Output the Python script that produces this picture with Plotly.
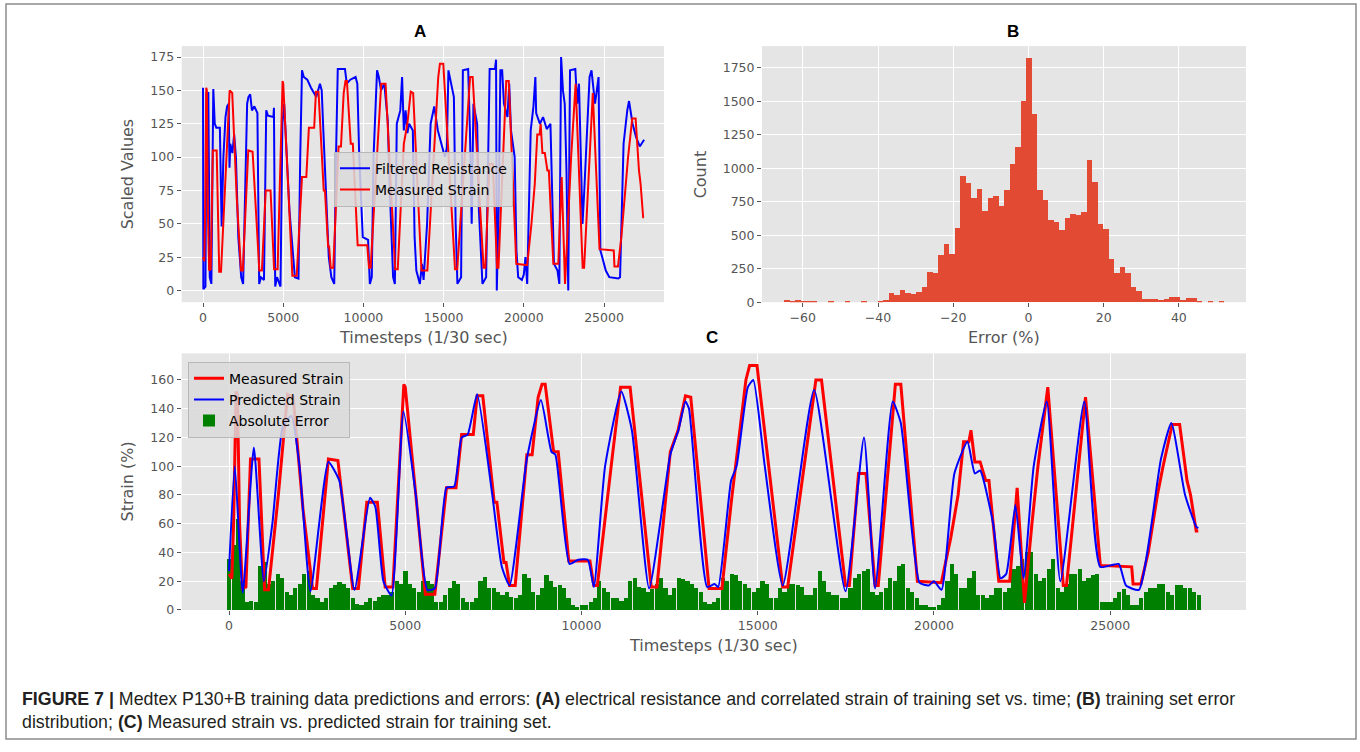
import plotly.graph_objects as go

W, H = 1360, 752

# ---------------- data ----------------
# Measured strain (timestep, %)
ms_t = [0, 80, 130, 200, 240, 300, 380, 480, 610, 850, 1010, 1120, 1400, 1660, 1820, 2100, 2370, 2480,
        2820, 3090, 3510, 3670, 3910, 4210, 4430, 4650, 4960, 5000, 5300, 5570, 5840, 6170, 6440, 6600,
        6930, 7040, 7200, 7525, 7600, 7800, 7860, 7960, 8120, 8285, 8450, 8600, 8770, 8880, 8970, 9210,
        9340, 9640, 10240, 10350, 10450, 10890, 11110, 11380, 11980, 12140, 12520, 12740, 12950, 13100,
        13620, 13985, 14250, 14665, 14770, 14980, 15710, 15850, 16650, 16810, 17490, 17600, 17860, 18070,
        18330, 18420, 18905, 19060, 19530, 20210, 20475, 20685, 20840, 20990, 21050, 21160, 21310, 21470,
        21560, 21840, 22150, 22360, 22570, 22780, 22950, 23230, 23670, 23760, 24090, 24300, 24720, 25610,
        25650, 25870, 26080, 26340, 26500, 26760, 26970, 27180, 27280, 27440, 27500]
ms_v = [25, 22, 60, 152, 150, 60, 15, 16, 105, 105, 14, 14, 80, 150, 148, 70, 15, 15,
        105, 104, 15, 15, 75, 75, 16, 16, 157, 155, 80, 11, 11, 85, 85, 122,
        122, 149, 149, 75, 75, 33, 33, 17, 17, 65, 108, 108, 148, 157, 157, 110,
        110, 34, 34, 17, 17, 110, 155, 155, 16, 16, 110, 125, 149, 148,
        15, 15, 75, 160, 170, 170, 16, 16, 160, 160, 17, 17, 95, 95,
        17, 17, 157, 157, 20, 19, 50, 80, 117, 117, 125, 103, 103, 90,
        90, 20, 20, 85, 5, 60, 100, 155, 17, 17, 100, 148, 31, 30,
        18, 18, 40, 80, 100, 129, 129, 90, 80, 55, 55]

# Predicted strain (timestep, %)
ps_t = [0, 165, 390, 705, 990, 1230, 1530, 1770, 2000, 2310, 2820, 3130, 3560, 4000, 4150, 4380, 4610,
        4950, 5300, 5625, 5840, 6170, 6390, 6600, 6770, 7040, 7470, 7740, 7960, 8450, 8850, 9150, 9260,
        9660, 9910, 10180, 10350, 10670, 11130, 11430, 11920, 12520, 12750, 12950, 13050, 13565, 13775,
        13880, 14245, 14400, 14720, 14875, 15200, 15710, 16600, 17490, 18015, 18330, 18830, 19060, 19590,
        19850, 20000, 20215, 20580, 20950, 21160, 21310, 21680, 21890, 22050, 22310, 22540, 22830, 23200,
        23585, 24265, 24720, 25240, 25450, 25815, 26440, 26735, 27125, 27440, 27500]
ps_v = [27, 100, 12, 113, 20, 60, 128, 135, 100, 13, 103, 90, 14, 78, 72, 20, 10,
        138, 80, 14, 15, 85, 86, 120, 122, 150, 80, 30, 17, 105, 146, 110, 108,
        32, 35, 35, 16, 100, 152, 125, 15, 108, 125, 145, 140, 16, 18,
        16, 90, 100, 155, 160, 100, 17, 153, 13, 120, 15, 145, 130, 19,
        17, 20, 14, 95, 117, 95, 97, 60, 22, 25, 73, 22, 100, 145,
        20, 145, 30, 32, 17, 14, 105, 130, 80, 58, 57]

# Filtered resistance (scaled)
fr_t = [0, 20, 150, 220, 330, 420, 520, 640, 730, 830, 1050, 1100, 1160, 1270, 1400, 1500, 1600, 1650,
        1700, 1830, 1940, 2050, 2200, 2380, 2500, 2600, 2750, 2830, 2940, 3050, 3200, 3390, 3450, 3500,
        3610, 3800, 3940, 4050, 4390, 4420, 4500, 4610, 4830, 4950, 5060, 5390, 5725, 5950, 6060, 6170,
        6280, 6500, 6730, 6950, 7060, 7290, 7400, 7500, 7840, 8000, 8180, 8290, 8400, 8850, 8960, 9180,
        9510, 9620, 9740, 9960, 10290, 10400, 10520, 10630, 10850, 10960, 11100, 11300, 11400, 11520,
        11630, 11850, 11960, 12080, 12300, 12410, 12520, 12630, 12740, 12850, 13080, 13190, 13300, 13520,
        13650, 13750, 13970, 14190, 14415, 14640, 14860, 15080, 15200, 15300, 15640, 15750, 15860, 16090,
        16200, 16530, 16640, 16750, 16860, 17090, 17200, 17420, 17650, 17760, 17870, 18200, 18270, 18315,
        18430, 18540, 18650, 18760, 18980, 19090, 19200, 19430, 19540, 19650, 19880, 20000, 20100, 20210,
        20430, 20600, 20720, 20770, 21000, 21200, 21430, 21660, 21770, 21880, 22100, 22215, 22325, 22440,
        22550, 22660, 22770, 22880, 23210, 23330, 23440, 23550, 23660, 23770, 23880, 24100, 24220, 24330,
        24440, 24660, 24775, 24890, 25110, 25330, 25890, 26000, 26220, 26450, 26560, 26780, 27000, 27230,
        27450, 27500]
fr_v = [152, 1, 3, 148, 148, 10, 5, 151, 125, 122, 122, 80, 48, 100, 130, 138, 140, 92,
        110, 103, 117, 100, 40, 10, 5, 60, 140, 145, 147, 135, 138, 133, 40, 5,
        10, 8, 135, 131, 130, 137, 3, 10, 3, 125, 140, 60, 10, 9, 100, 165,
        160, 158, 152, 148, 145, 155, 150, 120, 25, 10, 5, 100, 166, 166, 155, 158,
        160, 155, 100, 40, 38, 5, 10, 100, 165, 160, 150, 155, 140, 127,
        80, 10, 5, 125, 135, 160, 120, 135, 118, 125, 120, 40, 15, 5,
        20, 8, 50, 125, 138, 120, 110, 100, 107, 165, 145, 50, 5, 10,
        165, 166, 120, 50, 140, 125, 60, 5, 10, 100, 166, 166, 173, 0,
        60, 165, 165, 140, 130, 155, 120, 100, 30, 10, 8, 12, 25, 5,
        120, 138, 160, 133, 125, 130, 121, 125, 60, 20, 15, 5, 175, 150,
        140, 90, 0, 165, 166, 140, 155, 110, 50, 75, 100, 160, 165, 150,
        140, 160, 30, 25, 15, 10, 9, 10, 110, 135, 142, 125, 115, 108,
        113, 113]

# Absolute error (every 125 timesteps)
ae_t = list(range(0, 27501, 125))
ae_v = [35, 45, 63, 20, 5, 6, 5, 30, 33, 18, 20, 25, 22, 12, 10, 15, 18, 25, 27, 10,
        8, 5, 8, 15, 17, 19, 18, 15, 8, 4, 3, 5, 8, 6, 9, 10, 10, 12, 20, 18,
        27, 18, 15, 12, 20, 20, 18, 5, 5, 10, 15, 20, 18, 8, 5, 5, 8, 20, 23, 15,
        15, 12, 10, 12, 9, 8, 10, 25, 22, 12, 10, 15, 24, 20, 16, 17, 15, 8, 3, 2,
        3, 3, 5, 8, 20, 15, 12, 8, 8, 6, 8, 20, 22, 16, 15, 12, 14, 18, 22, 15,
        10, 15, 22, 21, 20, 18, 15, 12, 5, 4, 5, 8, 22, 20, 25, 24, 20, 18, 15, 12,
        15, 20, 18, 8, 8, 15, 12, 18, 18, 17, 16, 10, 10, 15, 27, 20, 12, 10, 10, 8,
        8, 15, 22, 25, 27, 28, 12, 10, 12, 15, 22, 20, 30, 32, 15, 12, 8, 3, 3, 2,
        2, 3, 8, 20, 32, 25, 15, 15, 22, 27, 10, 10, 8, 10, 15, 15, 12, 15, 28, 30,
        35, 40, 40, 25, 20, 22, 28, 35, 15, 12, 18, 25, 25, 28, 20, 22, 24, 25, 5, 5,
        5, 8, 12, 14, 10, 3, 3, 8, 12, 15, 15, 18, 18, 12, 10, 17, 17, 15, 15, 12,
        10]

# Error histogram
hist_start = -65.0
hist_bin = 1.4625
hist_counts = [15, 8, 12, 6, 6, 6, 0, 0, 5, 0, 0, 5, 0, 0, 5, 0, 0, 8, 15, 65,
               55, 90, 65, 60, 75, 110, 225, 215, 350, 435, 360, 555, 940, 890, 775, 845, 680, 775, 790, 715,
               835, 1030, 1160, 1500, 1820, 1400, 840, 765, 610, 600, 540, 630, 655, 650, 675, 1060, 895, 580, 545, 320,
               220, 265, 220, 115, 80, 25, 20, 25, 15, 20, 35, 35, 15, 30, 28, 10, 0, 5, 0, 5]
hist_x = [hist_start + hist_bin * (k + 0.5) for k in range(len(hist_counts))]

time_ticks = [0, 5000, 10000, 15000, 20000, 25000]
time_labels = ["0", "5000", "10000", "15000", "20000", "25000"]

# ---------------- styling ----------------
BG = "#E5E5E5"
TXT = "#555555"
FONT = "DejaVu Sans"


def xd(a, b):
    return [a / W, b / W]


def yd(top, bottom):
    return [1 - bottom / H, 1 - top / H]


fig = go.Figure()

# Panel A
fig.add_trace(go.Scatter(x=fr_t, y=fr_v, mode="lines", name="Filtered Resistance",
                         line=dict(color="#0000FF", width=2), xaxis="x", yaxis="y", legend="legend", legendrank=1))
fig.add_trace(go.Scatter(x=ms_t, y=ms_v, mode="lines", name="Measured Strain",
                         line=dict(color="#FF0000", width=2), xaxis="x", yaxis="y", legend="legend", legendrank=2))
# Panel B
fig.add_trace(go.Bar(x=hist_x, y=hist_counts, width=hist_bin, marker=dict(color="#E24A33", line=dict(width=0)),
                     showlegend=False, xaxis="x2", yaxis="y2"))
# Panel C
fig.add_trace(go.Bar(x=ae_t, y=ae_v, width=118, name="Absolute Error",
                     marker=dict(color="#008000", line=dict(width=0)), xaxis="x3", yaxis="y3",
                     legend="legend2", legendrank=3))
fig.add_trace(go.Scatter(x=ms_t, y=ms_v, mode="lines", name="Measured Strain",
                         line=dict(color="#FF0000", width=3), xaxis="x3", yaxis="y3",
                         legend="legend2", legendrank=1))
fig.add_trace(go.Scatter(x=ps_t, y=ps_v, mode="lines", name="Predicted Strain",
                         line=dict(color="#0000FF", width=2, shape="spline", smoothing=0.5),
                         xaxis="x3", yaxis="y3", legend="legend2", legendrank=2))

axis_common = dict(showgrid=True, gridcolor="white", gridwidth=1.2, zeroline=False, showline=False,
                   ticks="outside", ticklen=4, tickwidth=1, tickcolor=TXT,
                   tickfont=dict(family=FONT, size=12.5, color=TXT))

fig.update_layout(
    width=W, height=H, margin=dict(l=0, r=0, t=0, b=0),
    paper_bgcolor="white", plot_bgcolor=BG, bargap=0,
    xaxis=dict(domain=xd(181.7, 664), range=[-1330, 28740], tickvals=time_ticks, ticktext=time_labels,
               anchor="y", **axis_common),
    yaxis=dict(domain=yd(46.5, 305), range=[-8.7, 183.2], tickvals=[0, 25, 50, 75, 100, 125, 150, 175],
               anchor="x", **axis_common),
    xaxis2=dict(domain=xd(762, 1246), range=[-70.85, 57.85], tickvals=[-60, -40, -20, 0, 20, 40],
                ticktext=["\u221260", "\u221240", "\u221220", "0", "20", "40"], anchor="y2", **axis_common),
    yaxis2=dict(domain=yd(46.5, 305), range=[0, 1911], tickvals=[0, 250, 500, 750, 1000, 1250, 1500, 1750],
                anchor="x2", **axis_common),
    xaxis3=dict(domain=xd(181.7, 1246), range=[-1342, 28853], tickvals=time_ticks, ticktext=time_labels,
                anchor="y3", **axis_common),
    yaxis3=dict(domain=yd(356.7, 615.7), range=[0, 178.5], tickvals=[0, 20, 40, 60, 80, 100, 120, 140, 160],
                anchor="x3", **axis_common),
    legend=dict(x=334 / W, y=1 - 153 / H, xanchor="left", yanchor="top", bgcolor="rgba(218,218,218,0.85)",
                bordercolor="#b8b8b8", borderwidth=1, font=dict(family=FONT, size=14, color="black"),
                traceorder="normal"),
    legend2=dict(x=188 / W, y=1 - 365 / H, xanchor="left", yanchor="top", bgcolor="rgba(218,218,218,0.85)",
                 bordercolor="#b8b8b8", borderwidth=1, font=dict(family=FONT, size=14, color="black"),
                 traceorder="normal"),
)


def ann(text, x, y, size, color=TXT, angle=0, family=FONT, xanchor="center"):
    fig.add_annotation(text=text, x=x / W, y=1 - y / H, xref="paper", yref="paper", showarrow=False,
                       xanchor=xanchor, yanchor="middle", textangle=angle,
                       font=dict(family=family, size=size, color=color))


# Axis titles
ann("Timesteps (1/30 sec)", 423, 341, 16)
ann("Scaled Values", 127, 176, 16, angle=-90)
ann("Error (%)", 1004, 341, 16)
ann("Count", 700, 176, 16, angle=-90)
ann("Timesteps (1/30 sec)", 713, 652, 16)
ann("Strain (%)", 127, 486, 16, angle=-90)

# Panel letters
ann("<b>A</b>", 420, 32, 17, color="black", family="Liberation Sans")
ann("<b>B</b>", 1013, 32, 17, color="black", family="Liberation Sans")
ann("<b>C</b>", 712, 341, 17, color="black", family="Liberation Sans")

# Caption
cap1 = ("<b>FIGURE 7 |</b> Medtex P130+B training data predictions and errors: <b>(A)</b> electrical resistance "
        "and correlated strain of training set vs. time; <b>(B)</b> training set error")
cap2 = "distribution; <b>(C)</b> Measured strain vs. predicted strain for training set."
ann(cap1, 20, 706, 17.8, color="#231F20", family="Liberation Sans", xanchor="left")
ann(cap2, 20, 729, 17.8, color="#231F20", family="Liberation Sans", xanchor="left")

# Outer frame
fig.add_shape(type="rect", xref="paper", yref="paper", x0=6 / W, x1=1356 / W, y0=1 - 746 / H, y1=1 - 4 / H,
              line=dict(color="#8c8c8c", width=1.5), fillcolor="rgba(0,0,0,0)", layer="below")

fig.write_html("out.html")
